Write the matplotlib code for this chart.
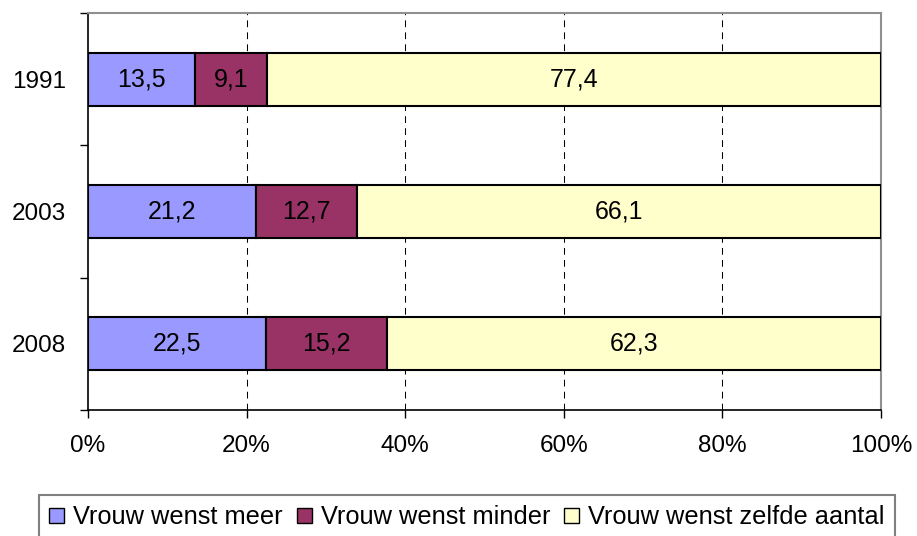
import numpy as np
import matplotlib.pyplot as plt
from matplotlib.ticker import FixedLocator, FuncFormatter

plt.rcParams['font.family'] = ['Liberation Sans', 'DejaVu Sans']

jaren = ["1991", "2003", "2008"]
meer = [13.5, 21.2, 22.5]
minder = [9.1, 12.7, 15.2]
zelfde = [77.4, 66.1, 62.3]
reeksen = ["Vrouw wenst meer", "Vrouw wenst minder", "Vrouw wenst zelfde aantal"]
kleuren = ["#9999FF", "#993366", "#FFFFCC"]

fs = 17.5

fig = plt.figure(figsize=(9.17, 5.36), dpi=100)
ax = fig.add_axes([88/917, 1-410/536, (881-88)/917, (410-13)/536])

y = np.arange(len(jaren))
links = np.zeros(len(jaren))
for waarden, naam, kleur in zip([meer, minder, zelfde], reeksen, kleuren):
    ax.barh(y, waarden, left=links, height=0.4, color=kleur,
            edgecolor="black", linewidth=1.5, label=naam, zorder=3)
    for yi, l, w in zip(y, links, waarden):
        ax.text(l + w/2, yi, f"{w:.1f}".replace(".", ","), ha="center",
                va="center", fontsize=18, zorder=4)
    links = links + np.array(waarden)

ax.set_xlim(0, 100)
ax.set_ylim(2.5, -0.5)

# raster
for xg in [20, 40, 60, 80]:
    ax.axvline(xg, color="black", linewidth=0.75, linestyle=(0, (6.5, 5)), zorder=1)

ax.xaxis.set_major_locator(FixedLocator([0, 20, 40, 60, 80, 100]))
ax.xaxis.set_major_formatter(FuncFormatter(lambda v, p: f"{v:.0f}%"))
ax.tick_params(axis="x", length=6, width=1, pad=12, labelsize=fs)

ax.yaxis.set_major_locator(FixedLocator([-0.5, 0.5, 1.5, 2.5]))
ax.yaxis.set_major_formatter(FuncFormatter(lambda v, p: ""))
ax.set_yticks(y, jaren, minor=True)
ax.tick_params(axis="y", which="major", length=6, width=1)
ax.tick_params(axis="y", which="minor", length=0, pad=16, labelsize=fs)

for kant in ["left", "bottom"]:
    ax.spines[kant].set_color("black")
    ax.spines[kant].set_linewidth(1.2)
for kant in ["top", "right"]:
    ax.spines[kant].set_color("#909090")
    ax.spines[kant].set_linewidth(1.5)

leg = fig.legend(loc="upper center", bbox_to_anchor=(467/917, 1-495/536), ncol=3,
                 fontsize=18.3, frameon=True, fancybox=False, edgecolor="#606060",
                 handlelength=0.59, handleheight=0.55, handletextpad=0.35,
                 columnspacing=0.55, borderpad=0.4, borderaxespad=0)
leg.get_frame().set_linewidth(1.5)
for h in leg.legend_handles:
    h.set_linewidth(1)

fig.savefig("out.png", dpi=100)
